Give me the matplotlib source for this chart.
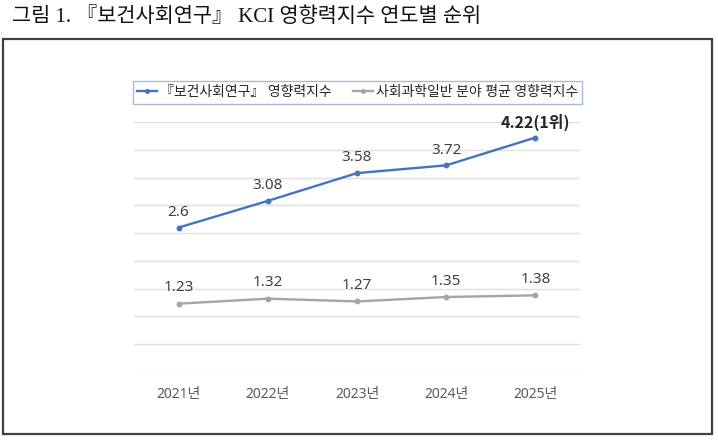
import matplotlib
matplotlib.use("Agg")
import matplotlib.pyplot as plt
from matplotlib.patches import Rectangle

# 데이터
years = ["2021년", "2022년", "2023년", "2024년", "2025년"]
journal = [2.6, 3.08, 3.58, 3.72, 4.22]
field_avg = [1.23, 1.32, 1.27, 1.35, 1.38]
journal_labels = ["2.6", "3.08", "3.58", "3.72", "4.22(1위)"]
field_labels = ["1.23", "1.32", "1.27", "1.35", "1.38"]
legend_names = ["『보건사회연구』 영향력지수", "사회과학일반 분야 평균 영향력지수"]
title = "그림 1. 『보건사회연구』 KCI 영향력지수 연도별 순위"

plt.rcParams['font.family'] = ['Noto Sans', 'Noto Sans CJK KR', 'DejaVu Sans']

W, H = 718, 442
fig = plt.figure(figsize=(W / 100, H / 100), dpi=100)
fig.patch.set_facecolor("white")

def fx(px):
    return px / W

def fy(py):
    return 1 - py / H

ax = fig.add_axes([fx(134), fy(372), fx(580) - fx(134), fy(122) - fy(372)])

blue = "#4472C4"
gray = "#A5A5A5"
xs = list(range(len(years)))

ax.plot(xs, journal, color=blue, lw=1.7, marker="o", ms=3.2, label=legend_names[0], zorder=3)
ax.plot(xs, field_avg, color=gray, lw=1.7, marker="o", ms=3.2, label=legend_names[1], zorder=3)

for i, (v, t) in enumerate(zip(journal, journal_labels)):
    if i == len(journal) - 1:
        ax.annotate(t, (i, v), xytext=(0, 11), textcoords="offset points",
                    ha="center", va="center", fontsize=11.5, fontweight="bold",
                    family=['Noto Sans CJK KR'], color="#262626")
    else:
        ax.annotate(t, (i, v), xytext=(0, 11), textcoords="offset points",
                    ha="center", va="center", fontsize=11, color="#404040")
for i, (v, t) in enumerate(zip(field_avg, field_labels)):
    ax.annotate(t, (i, v), xytext=(0, 11.5), textcoords="offset points",
                ha="center", va="center", fontsize=11, color="#404040")

ax.set_xlim(-0.5, len(years) - 0.5)
ax.set_ylim(0, 4.5)
ax.set_yticks([i * 0.5 for i in range(10)])
ax.set_yticklabels([])
ax.set_xticks(xs)
ax.set_xticklabels(years, fontsize=10, color="#595959")
ax.tick_params(axis="both", length=0)
ax.tick_params(axis="x", pad=11)
ax.grid(axis="y", color="#E0E0E0", lw=1)
ax.set_axisbelow(True)
for s in ax.spines.values():
    s.set_visible(False)

leg = ax.legend(loc="center", bbox_to_anchor=(fx(357.5), fy(92.5)),
                bbox_transform=fig.transFigure, ncol=2, frameon=True, fancybox=False,
                fontsize=10, handlelength=1.4, handletextpad=0.2, columnspacing=1.6,
                borderpad=0.3, markerscale=0.8)
leg.get_frame().set_edgecolor("#8EA9DB")
leg.get_frame().set_linewidth(1)
for t in leg.get_texts():
    t.set_color("#262626")

# 바깥 테두리
fig.patches.append(Rectangle((fx(3), fy(434)), fx(712) - fx(3), fy(39) - fy(434),
                             transform=fig.transFigure, fill=False,
                             edgecolor="#404040", lw=1.6))

fig.text(fx(12), fy(17), title, fontsize=15, va="center", ha="left",
         family=['Liberation Serif', 'Noto Sans CJK KR'], color="#111111")

fig.savefig("out.png", dpi=100)
